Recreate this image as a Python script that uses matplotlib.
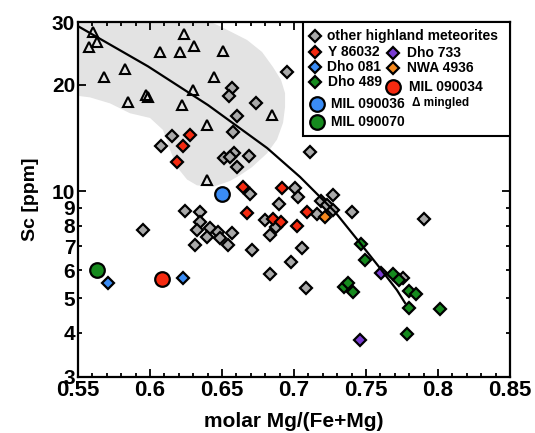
import matplotlib
matplotlib.use('Agg')
import matplotlib.pyplot as plt
from matplotlib.ticker import FixedLocator, FixedFormatter
from matplotlib.patches import Rectangle, Polygon

plt.rcParams['font.family'] = ['Liberation Sans', 'DejaVu Sans']
plt.rcParams['font.weight'] = 'bold'

# ---------------- data ----------------
other_x = [0.6951, 0.6569, 0.6549, 0.6736, 0.6604, 0.6576, 0.6153, 0.6076, 0.6514, 0.6583,
           0.6556, 0.6604, 0.6688, 0.7111, 0.6694, 0.7007, 0.7028, 0.6896, 0.6799, 0.6875,
           0.6833, 0.6708, 0.6833, 0.6979, 0.7056, 0.7083, 0.7160, 0.7188, 0.7229, 0.7271,
           0.7271, 0.7403, 0.7903, 0.7757, 0.5951, 0.6243, 0.6347, 0.6347, 0.6326, 0.6417,
           0.6396, 0.6472, 0.6486, 0.6569, 0.6542, 0.6313]
other_y = [21.7, 19.6, 18.6, 17.7, 16.3, 14.7, 14.3, 13.4, 12.4, 12.8,
           12.5, 11.7, 12.6, 12.9, 9.83, 10.2, 9.64, 9.22, 8.31, 7.94,
           7.54, 6.84, 5.85, 6.32, 6.93, 5.34, 8.64, 9.40, 9.15, 9.77,
           8.86, 8.75, 8.36, 5.70, 7.78, 8.81, 8.75, 8.20, 7.78, 7.89,
           7.44, 7.68, 7.39, 7.64, 7.06, 7.06]

y86032_x = [0.6278, 0.6229, 0.6188, 0.6646, 0.6917, 0.6674, 0.6854, 0.6910, 0.7021, 0.7090]
y86032_y = [14.4, 13.4, 12.1, 10.3, 10.2, 8.69, 8.36, 8.20, 7.99, 8.75]

dho081_x = [0.5708, 0.6229]
dho081_y = [5.52, 5.70]

dho489_x = [0.7465, 0.7493, 0.7688, 0.7729, 0.7347, 0.7375, 0.7410, 0.7799, 0.7847, 0.7799, 0.8014, 0.7785]
dho489_y = [7.11, 6.41, 5.85, 5.63, 5.38, 5.52, 5.21, 5.24, 5.14, 4.69, 4.66, 3.97]

dho733_x = [0.7604, 0.7458]
dho733_y = [5.89, 3.81]

nwa4936_x = [0.7215]
nwa4936_y = [8.47]

mil090034_x = [0.6083]
mil090034_y = [5.66]
mil090036_x = [0.6500]
mil090036_y = [9.83]
mil090070_x = [0.5632]
mil090070_y = [6.00]

mingled_x = [0.5604, 0.5632, 0.5576, 0.6236, 0.6306, 0.6069, 0.6208, 0.5826, 0.5681, 0.6299,
             0.5972, 0.5986, 0.5847, 0.6222, 0.6507, 0.6444, 0.6847, 0.6396, 0.6396]
mingled_y = [28.1, 26.3, 25.5, 27.8, 25.7, 24.7, 24.7, 22.1, 21.0, 19.3,
             18.7, 18.4, 17.9, 17.5, 24.9, 21.0, 16.4, 15.4, 10.8]

curve_x = [0.5500, 0.5986, 0.6403, 0.6813, 0.7042, 0.7285, 0.7458, 0.7597, 0.7715, 0.7771]
curve_y = [29.2, 22.5, 17.5, 13.25, 10.98, 8.75, 7.16, 6.08, 5.27, 4.85]

field_x = [0.5400, 0.6347, 0.6500, 0.6674, 0.6778, 0.6854, 0.6910, 0.6938, 0.6938, 0.6924,
           0.6882, 0.6813, 0.6708, 0.6625, 0.6556, 0.6438, 0.6326, 0.6257, 0.6188, 0.6139,
           0.6090, 0.6000, 0.5861, 0.5722, 0.5583, 0.5400]
field_y = [31.0, 31.0, 29.0, 26.7, 24.7, 22.4, 20.6, 18.9, 17.3, 15.6,
           14.0, 12.8, 11.7, 11.1, 10.7, 10.3, 10.4, 10.8, 11.7, 13.1,
           14.9, 16.1, 16.6, 17.7, 18.4, 18.8]

xticks = [0.55, 0.6, 0.65, 0.7, 0.75, 0.8, 0.85]
xtick_labels = ['0.55', '0.6', '0.65', '0.7', '0.75', '0.8', '0.85']
ymajor = [10, 20, 30]
ymajor_labels = ['10', '20', '30']
yminor = [3, 4, 5, 6, 7, 8, 9]
yminor_labels = ['3', '4', '5', '6', '7', '8', '9']

# ---------------- style ----------------
C_GRAY = '#a9a9a9'
C_RED = '#f52a10'
C_BLUE = '#3a8cf5'
C_GREEN = '#168a1e'
C_PURPLE = '#7a3cd2'
C_ORANGE = '#f5891e'

fig = plt.figure(figsize=(5.35, 4.33), dpi=100)
ax = fig.add_axes([78 / 535, 1 - 377 / 433, 432 / 535, 355 / 433])
ax.set_yscale('log')
ax.set_xlim(0.55, 0.85)
ax.set_ylim(3, 30)

ax.add_patch(Polygon(list(zip(field_x, field_y)), closed=True, facecolor='#e3e3e3',
                     edgecolor='none', zorder=0))

dkw = dict(linestyle='none', marker='D', markersize=6.3, markeredgecolor='black',
           markeredgewidth=1.6, zorder=3)
ax.plot(mingled_x, mingled_y, linestyle='none', marker='^', markersize=6.5,
        markerfacecolor='none', markeredgecolor='black', markeredgewidth=1.5, zorder=3)
ax.plot(other_x, other_y, markerfacecolor=C_GRAY, **dkw)
ax.plot(y86032_x, y86032_y, markerfacecolor=C_RED, **dkw)
ax.plot(dho081_x, dho081_y, markerfacecolor=C_BLUE, **dkw)
ax.plot(dho489_x, dho489_y, markerfacecolor=C_GREEN, **dkw)
ax.plot(dho733_x, dho733_y, markerfacecolor=C_PURPLE, **dkw)
ax.plot(nwa4936_x, nwa4936_y, markerfacecolor=C_ORANGE, **dkw)
ckw = dict(linestyle='none', marker='o', markersize=10.5, markeredgecolor='black',
           markeredgewidth=1.6, zorder=4)
ax.plot(mil090034_x, mil090034_y, markerfacecolor=C_RED, **ckw)
ax.plot(mil090036_x, mil090036_y, markerfacecolor=C_BLUE, **ckw)
ax.plot(mil090070_x, mil090070_y, markerfacecolor=C_GREEN, **ckw)

ax.plot(curve_x, curve_y, color='black', linewidth=1.6, zorder=5)

# axes / ticks
for s in ax.spines.values():
    s.set_linewidth(1.6)
ax.xaxis.set_major_locator(FixedLocator(xticks))
ax.xaxis.set_major_formatter(FixedFormatter(xtick_labels))
ax.xaxis.set_minor_locator(FixedLocator([0.55 + 0.01 * i for i in range(31)]))
ax.yaxis.set_major_locator(FixedLocator(ymajor))
ax.yaxis.set_major_formatter(FixedFormatter(ymajor_labels))
ax.yaxis.set_minor_locator(FixedLocator(yminor))
ax.yaxis.set_minor_formatter(FixedFormatter(yminor_labels))
ax.tick_params(which='both', direction='in', top=True, right=True, width=1.3, pad=2)
ax.tick_params(axis='x', which='both', labelsize=16)
ax.tick_params(axis='y', which='both', labelsize=15)
ax.tick_params(which='major', length=6)
ax.tick_params(which='minor', length=3)
for lab in ax.get_xticklabels() + ax.get_yticklabels() + ax.get_yticklabels(minor=True):
    lab.set_fontweight('bold')
ax.set_xlabel('molar Mg/(Fe+Mg)', fontsize=15, fontweight='bold', labelpad=8)
ax.set_ylabel('Sc [ppm]', fontsize=14, fontweight='bold', labelpad=9)

# legend (drawn manually)
T = ax.transAxes
ax.add_patch(Rectangle((0.5208, 0.6789), 1 - 0.5208, 1 - 0.6789, transform=T,
                       facecolor='white', edgecolor='black', linewidth=1.5, zorder=10))
lkw = dict(transform=T, linestyle='none', marker='D', markersize=6.3,
           markeredgecolor='black', markeredgewidth=1.6, zorder=11, clip_on=False)
lckw = dict(transform=T, linestyle='none', marker='o', markersize=10.5,
            markeredgecolor='black', markeredgewidth=1.6, zorder=11, clip_on=False)
tkw = dict(transform=T, fontsize=10, fontweight='bold', va='center', ha='left', zorder=12)

ax.plot([0.5486], [0.9606], markerfacecolor=C_GRAY, **lkw)
ax.text(0.5764, 0.9606, 'other highland meteorites', **tkw)
ax.plot([0.5486], [0.9155], markerfacecolor=C_RED, **lkw)
ax.text(0.5787, 0.9155, 'Y 86032', **tkw)
ax.plot([0.7292], [0.9127], markerfacecolor=C_PURPLE, **lkw)
ax.text(0.7616, 0.9127, 'Dho 733', **tkw)
ax.plot([0.5486], [0.8732], markerfacecolor=C_BLUE, **lkw)
ax.text(0.5764, 0.8732, 'Dho 081', **tkw)
ax.plot([0.7292], [0.8704], markerfacecolor=C_ORANGE, **lkw)
ax.text(0.7616, 0.8704, 'NWA 4936', **tkw)
ax.plot([0.5486], [0.8310], markerfacecolor=C_GREEN, **lkw)
ax.text(0.5787, 0.8310, 'Dho 489', **tkw)
ax.plot([0.7292], [0.8169], markerfacecolor=C_RED, **lckw)
ax.text(0.7662, 0.8169, 'MIL 090034', **tkw)
ax.plot([0.5532], [0.7690], markerfacecolor=C_BLUE, **lckw)
ax.text(0.5856, 0.7690, 'MIL 090036', **tkw)
ax.text(0.7731, 0.7718, 'Δ mingled', transform=T, fontsize=8.5, fontweight='bold',
        va='center', ha='left', zorder=12)
ax.plot([0.5532], [0.7183], markerfacecolor=C_GREEN, **lckw)
ax.text(0.5856, 0.7183, 'MIL 090070', **tkw)

fig.savefig('out.png', dpi=100)
